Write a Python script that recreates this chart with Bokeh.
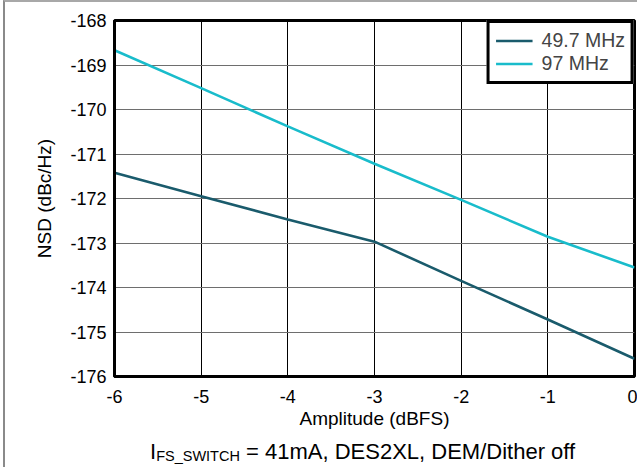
from bokeh.plotting import figure
from bokeh.models import Range1d, FixedTicker, Legend, LegendItem, Div
from bokeh.layouts import column
from bokeh.embed import file_html
from bokeh.resources import INLINE

amplitude = [-6, -5, -4, -3, -2, -1, 0]
nsd_49_7 = [-171.42, -171.95, -172.47, -172.97, -173.85, -174.72, -175.60]
nsd_97 = [-168.67, -169.52, -170.38, -171.22, -172.03, -172.86, -173.55]
series_names = ["49.7 MHz", "97 MHz"]
x_ticks = [-6, -5, -4, -3, -2, -1, 0]
y_ticks = [-176, -175, -174, -173, -172, -171, -170, -169, -168]
caption_main = "I"
caption_sub = "FS_SWITCH"
caption_rest = " = 41mA, DES2XL, DEM/Dither off"

FONT = "Liberation Sans"
C1 = "#1a5b6c"
C2 = "#19bccb"

p = figure(width=632, height=430, output_backend="svg", toolbar_location=None,
           x_range=Range1d(-6, 0), y_range=Range1d(-176, -168),
           min_border_left=109, min_border_top=18, min_border_right=3,
           min_border_bottom=56)
p.background_fill_color = "white"
p.border_fill_color = "white"
p.outline_line_color = "black"
p.outline_line_width = 3

r1 = p.line(amplitude, nsd_49_7, line_color=C1, line_width=2.6)
r2 = p.line(amplitude, nsd_97, line_color=C2, line_width=2.6)

for ax in (p.xaxis[0], p.yaxis[0]):
    ax.axis_line_color = "black"
    ax.axis_line_width = 3
    ax.major_tick_line_color = None
    ax.minor_tick_line_color = None
    ax.major_tick_out = 0
    ax.major_tick_in = 0
    ax.minor_tick_out = 0
    ax.minor_tick_in = 0
    ax.major_label_text_font = FONT
    ax.major_label_text_font_size = "18px"
    ax.major_label_text_color = "black"
    ax.axis_label_text_font = FONT
    ax.axis_label_text_font_size = "19px"
    ax.axis_label_text_font_style = "normal"
    ax.axis_label_text_color = "black"

p.xaxis.ticker = FixedTicker(ticks=x_ticks)
p.yaxis.ticker = FixedTicker(ticks=y_ticks)
p.xaxis.major_label_overrides = {t: str(t) for t in x_ticks}
p.yaxis.major_label_overrides = {t: str(t) for t in y_ticks}
p.xaxis.axis_label = "Amplitude (dBFS)"
p.yaxis.axis_label = "NSD (dBc/Hz)"
p.xaxis.major_label_standoff = 13
p.yaxis.major_label_standoff = 8
p.xaxis.axis_label_standoff = 2
p.yaxis.axis_label_standoff = 12

p.xgrid.grid_line_color = "black"
p.xgrid.grid_line_width = 1
p.ygrid.grid_line_color = "#6e6e6e"
p.ygrid.grid_line_width = 1

legend = Legend(items=[LegendItem(label=series_names[0], renderers=[r1]),
                       LegendItem(label=series_names[1], renderers=[r2])],
                location="top_right")
legend.margin = 0
legend.padding = 6
legend.spacing = 0
legend.border_line_color = "black"
legend.border_line_width = 3
legend.border_line_alpha = 1
legend.label_text_font = FONT
legend.label_text_font_size = "19.5px"
legend.label_height = 21
legend.glyph_height = 21
legend.glyph_width = 37
legend.label_standoff = 9
legend.background_fill_alpha = 1
p.add_layout(legend)

caption = Div(
    text=(f'<div style="font-family:\'Liberation Sans\';font-size:22px;line-height:26px;'
          f'padding-left:140px;padding-top:2px;white-space:nowrap;color:black;overflow:visible;">'
          f'{caption_main}<span style="font-size:14.5px;vertical-align:-2px;">{caption_sub}</span>'
          f'{caption_rest}</div>'),
    width=632, height=35)

layout = column(p, caption, spacing=0,
                styles={"border-left": "2px solid #8a8a8a",
                        "border-top": "2px solid #a8a8a8",
                        "margin-left": "3px"})

open("out.html", "w").write(file_html(layout, INLINE))
